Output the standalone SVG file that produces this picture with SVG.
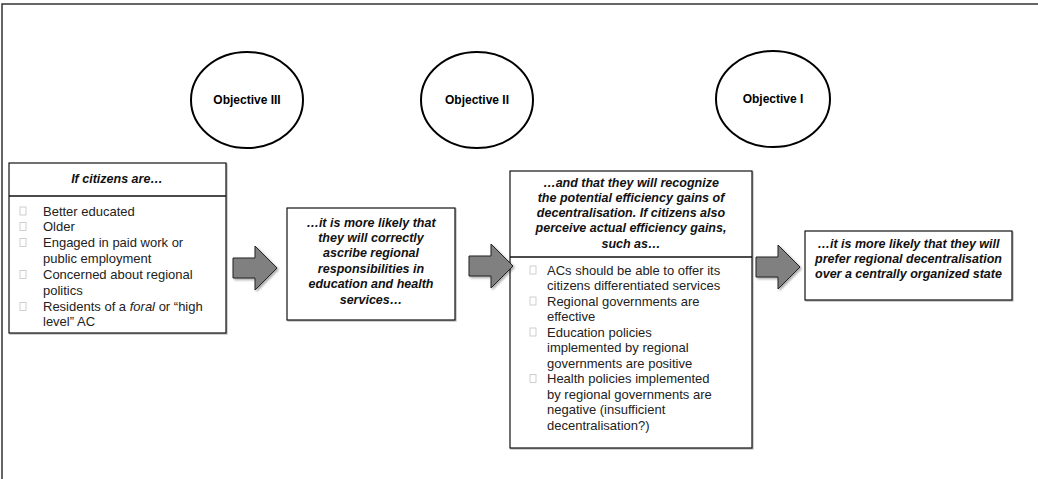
<svg xmlns="http://www.w3.org/2000/svg" width="1038" height="479" viewBox="0 0 1038 479">
<style>
  .frame{stroke:#333;stroke-width:1.5;fill:none}
  .ell{fill:#fff;stroke:#000;stroke-width:2}
  .elab{font-family:"Liberation Sans",Arial,sans-serif;font-weight:bold;font-size:12px;fill:#000;text-anchor:middle}
  .box{fill:#fff;stroke:#111;stroke-width:1.2}
  .div{stroke:#111;stroke-width:1.5}
  .hd{font-family:"Liberation Sans",Arial,sans-serif;font-weight:bold;font-style:italic;font-size:12.5px;fill:#111;text-anchor:middle}
  .li{font-family:"Liberation Sans",Arial,sans-serif;font-size:13px;fill:#222}
  .bul{fill:none;stroke:#c4c4c4;stroke-width:0.8}
  .arr{fill:#808080;stroke:#222;stroke-width:1}
</style>
<defs>
  <filter id="sh" x="-20%" y="-20%" width="150%" height="150%">
    <feDropShadow dx="1.5" dy="1.5" stdDeviation="1" flood-color="#000" flood-opacity="0.35"/>
  </filter>
  <filter id="bsh" x="-5%" y="-5%" width="110%" height="110%">
    <feDropShadow dx="1" dy="1" stdDeviation="0.5" flood-color="#000" flood-opacity="0.3"/>
  </filter>
</defs>
<rect width="1038" height="479" fill="#fff"/>
<path class="frame" d="M2,479 V4 H1038"/>

<g id="obj3"><ellipse class="ell" cx="247" cy="100" rx="56" ry="48"/><text class="elab" x="247" y="104">Objective III</text></g>
<g id="obj2"><ellipse class="ell" cx="477" cy="100" rx="56" ry="48"/><text class="elab" x="477" y="104">Objective II</text></g>
<g id="obj1"><ellipse class="ell" cx="773" cy="99" rx="57" ry="48"/><text class="elab" x="773" y="103">Objective I</text></g>

<g id="box1">
  <rect class="box" x="9" y="163" width="217" height="170" filter="url(#bsh)"/>
  <line class="div" x1="9" y1="196" x2="226" y2="196"/>
  <text class="hd" x="117" y="182.5">If citizens are…</text>
  <rect class="bul" x="20" y="207" width="6" height="8"/>
  <text class="li" x="43" y="215.5">Better educated</text>
  <rect class="bul" x="20" y="222.5" width="6" height="8"/>
  <text class="li" x="43" y="231">Older</text>
  <rect class="bul" x="20" y="238.5" width="6" height="8"/>
  <text class="li" x="43" y="247">Engaged in paid work or</text>
  <text class="li" x="43" y="263">public employment</text>
  <rect class="bul" x="20" y="270.5" width="6" height="8"/>
  <text class="li" x="43" y="279">Concerned about regional</text>
  <text class="li" x="43" y="295">politics</text>
  <rect class="bul" x="20" y="302.5" width="6" height="8"/>
  <text class="li" x="43" y="311">Residents of a <tspan font-style="italic">foral</tspan> or “high</text>
  <text class="li" x="43" y="326">level” AC</text>
</g>

<g id="box2">
  <rect class="box" x="287" y="208" width="168" height="112" filter="url(#bsh)"/>
  <text class="hd" x="371" y="226.5">…it is more likely that</text>
  <text class="hd" x="371" y="241.9">they will correctly</text>
  <text class="hd" x="371" y="257.3">ascribe regional</text>
  <text class="hd" x="371" y="272.7">responsibilities in</text>
  <text class="hd" x="371" y="288.1">education and health</text>
  <text class="hd" x="371" y="303.5">services…</text>
</g>

<g id="box3">
  <rect class="box" x="510" y="171" width="242" height="277" filter="url(#bsh)"/>
  <line class="div" x1="510" y1="257" x2="752" y2="257"/>
  <text class="hd" x="631" y="186.5">…and that they will recognize</text>
  <text class="hd" x="631" y="201.8">the potential efficiency gains of</text>
  <text class="hd" x="631" y="217.1">decentralisation. If citizens also</text>
  <text class="hd" x="631" y="232.4">perceive actual efficiency gains,</text>
  <text class="hd" x="631" y="247.7">such as…</text>
  <rect class="bul" x="530" y="266" width="6" height="8"/>
  <text class="li" x="547" y="274.5">ACs should be able to offer its</text>
  <text class="li" x="547" y="290">citizens differentiated services</text>
  <rect class="bul" x="530" y="297" width="6" height="8"/>
  <text class="li" x="547" y="305.5">Regional governments are</text>
  <text class="li" x="547" y="321">effective</text>
  <rect class="bul" x="530" y="328" width="6" height="8"/>
  <text class="li" x="547" y="336.5">Education policies</text>
  <text class="li" x="547" y="352">implemented by regional</text>
  <text class="li" x="547" y="367.5">governments are positive</text>
  <rect class="bul" x="530" y="374.5" width="6" height="8"/>
  <text class="li" x="547" y="383">Health policies implemented</text>
  <text class="li" x="547" y="398.5">by regional governments are</text>
  <text class="li" x="547" y="414">negative (insufficient</text>
  <text class="li" x="547" y="429.5">decentralisation?)</text>
</g>

<g id="box4">
  <rect class="box" x="805" y="231" width="207" height="69" filter="url(#bsh)"/>
  <text class="hd" x="908.5" y="247.5">…it is more likely that they will</text>
  <text class="hd" x="908.5" y="262.5">prefer regional decentralisation</text>
  <text class="hd" x="908.5" y="277.5">over a centrally organized state</text>
</g>

<g id="connectors">
  <path class="arr" filter="url(#sh)" d="M233,258 H255 V246 L277,268 L255,290 V278 H233 Z"/>
  <path class="arr" filter="url(#sh)" d="M469,256 H491 V244 L513,266 L491,288 V276 H469 Z"/>
  <path class="arr" filter="url(#sh)" d="M756,257 H778 V245 L800,267 L778,289 V277 H756 Z"/>
</g>
</svg>
